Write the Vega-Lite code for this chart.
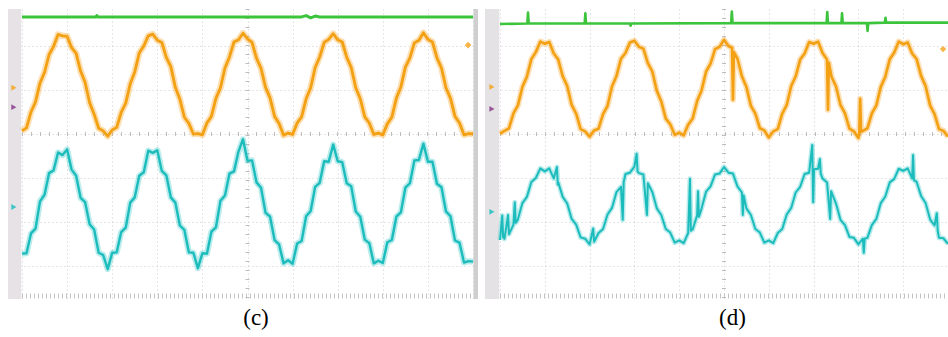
{
  "$schema": "https://vega.github.io/schema/vega-lite/v6.json",
  "background": "white",
  "padding": {"left": 8, "top": 7, "right": 0, "bottom": 0},
  "spacing": 7,
  "config": {
    "view": {"stroke": null},
    "axis": {"domain": false, "ticks": false, "labels": false, "grid": true, "gridColor": "#cdcdcd", "gridDash": [1, 3], "gridWidth": 1},
    "line": {"strokeJoin": "round", "strokeCap": "butt"},
    "title": {"font": "Liberation Serif", "fontSize": 23, "fontWeight": "normal", "color": "#000000", "orient": "bottom", "anchor": "middle"}
  },
  "datasets": {
    "gc": [{"t":0,"v":2.66},{"t":16.4,"v":2.66},{"t":16.6,"v":2.69},{"t":16.8,"v":2.66},{"t":62,"v":2.66},{"t":63,"v":2.69},{"t":64,"v":2.64},{"t":65,"v":2.68},{"t":66,"v":2.66},{"t":100,"v":2.66}],
    "oc": [{"t":0,"v":0.07},{"t":1,"v":0.14},{"t":2,"v":0.5},{"t":3,"v":0.73},{"t":4,"v":1.16},{"t":5,"v":1.4},{"t":6,"v":1.8},{"t":7,"v":1.99},{"t":8,"v":2.26},{"t":9,"v":2.23},{"t":10,"v":2.22},{"t":11,"v":1.96},{"t":12,"v":1.83},{"t":13,"v":1.43},{"t":14,"v":1.17},{"t":15,"v":0.71},{"t":16,"v":0.45},{"t":17,"v":0.13},{"t":18,"v":0.07},{"t":19,"v":-0.05},{"t":20,"v":0.09},{"t":21,"v":0.15},{"t":22,"v":0.49},{"t":23,"v":0.7},{"t":24,"v":1.14},{"t":25,"v":1.41},{"t":26,"v":1.84},{"t":27,"v":2.0},{"t":28,"v":2.23},{"t":29,"v":2.27},{"t":30,"v":2.13},{"t":31,"v":2.08},{"t":32,"v":1.74},{"t":33,"v":1.53},{"t":34,"v":1.06},{"t":35,"v":0.79},{"t":36,"v":0.38},{"t":37,"v":0.24},{"t":38,"v":0.0},{"t":39,"v":0.01},{"t":40,"v":-0.02},{"t":41,"v":0.25},{"t":42,"v":0.4},{"t":43,"v":0.81},{"t":44,"v":1.05},{"t":45,"v":1.5},{"t":46,"v":1.75},{"t":47,"v":2.09},{"t":48,"v":2.14},{"t":49,"v":2.29},{"t":50,"v":2.16},{"t":51,"v":2.08},{"t":52,"v":1.72},{"t":53,"v":1.49},{"t":54,"v":1.06},{"t":55,"v":0.82},{"t":56,"v":0.4},{"t":57,"v":0.24},{"t":58,"v":-0.03},{"t":59,"v":0.02},{"t":60,"v":-0.01},{"t":61,"v":0.25},{"t":62,"v":0.39},{"t":63,"v":0.8},{"t":64,"v":1.05},{"t":65,"v":1.51},{"t":66,"v":1.75},{"t":67,"v":2.08},{"t":68,"v":2.15},{"t":69,"v":2.28},{"t":70,"v":2.14},{"t":71,"v":2.09},{"t":72,"v":1.74},{"t":73,"v":1.51},{"t":74,"v":1.05},{"t":75,"v":0.8},{"t":76,"v":0.39},{"t":77,"v":0.25},{"t":78,"v":-0.01},{"t":79,"v":0.02},{"t":80,"v":-0.02},{"t":81,"v":0.23},{"t":82,"v":0.38},{"t":83,"v":0.81},{"t":84,"v":1.07},{"t":85,"v":1.52},{"t":86,"v":1.73},{"t":87,"v":2.07},{"t":88,"v":2.13},{"t":89,"v":2.3},{"t":90,"v":2.15},{"t":91,"v":2.09},{"t":92,"v":1.73},{"t":93,"v":1.5},{"t":94,"v":1.05},{"t":95,"v":0.81},{"t":96,"v":0.4},{"t":97,"v":0.25},{"t":98,"v":-0.02},{"t":99,"v":0.01},{"t":100,"v":0.0}],
    "cc": [{"t":0,"v":-2.72},{"t":1,"v":-2.71},{"t":2,"v":-2.26},{"t":3,"v":-2.15},{"t":4,"v":-1.53},{"t":5,"v":-1.38},{"t":6,"v":-0.89},{"t":7,"v":-0.83},{"t":8,"v":-0.42},{"t":9,"v":-0.48},{"t":10,"v":-0.35},{"t":11,"v":-0.81},{"t":12,"v":-0.95},{"t":13,"v":-1.45},{"t":14,"v":-1.55},{"t":15,"v":-2.05},{"t":16,"v":-2.17},{"t":17,"v":-2.7},{"t":18,"v":-2.75},{"t":19,"v":-3.07},{"t":20,"v":-2.7},{"t":21,"v":-2.69},{"t":22,"v":-2.23},{"t":23,"v":-2.13},{"t":24,"v":-1.56},{"t":25,"v":-1.44},{"t":26,"v":-0.95},{"t":27,"v":-0.87},{"t":28,"v":-0.38},{"t":29,"v":-0.43},{"t":30,"v":-0.37},{"t":31,"v":-0.84},{"t":32,"v":-0.94},{"t":33,"v":-1.44},{"t":34,"v":-1.56},{"t":35,"v":-2.08},{"t":36,"v":-2.18},{"t":37,"v":-2.69},{"t":38,"v":-2.7},{"t":39,"v":-3.05},{"t":40,"v":-2.71},{"t":41,"v":-2.72},{"t":42,"v":-2.22},{"t":43,"v":-2.12},{"t":44,"v":-1.52},{"t":45,"v":-1.4},{"t":46,"v":-0.9},{"t":47,"v":-0.85},{"t":48,"v":-0.4},{"t":49,"v":-0.12},{"t":50,"v":-0.61},{"t":51,"v":-0.6},{"t":52,"v":-1.1},{"t":53,"v":-1.22},{"t":54,"v":-1.79},{"t":55,"v":-1.88},{"t":56,"v":-2.41},{"t":57,"v":-2.51},{"t":58,"v":-2.94},{"t":59,"v":-2.87},{"t":60,"v":-2.95},{"t":61,"v":-2.49},{"t":62,"v":-2.43},{"t":63,"v":-1.87},{"t":64,"v":-1.75},{"t":65,"v":-1.2},{"t":66,"v":-1.11},{"t":67,"v":-0.62},{"t":68,"v":-0.63},{"t":69,"v":-0.24},{"t":70,"v":-0.62},{"t":71,"v":-0.64},{"t":72,"v":-1.12},{"t":73,"v":-1.19},{"t":74,"v":-1.76},{"t":75,"v":-1.88},{"t":76,"v":-2.4},{"t":77,"v":-2.48},{"t":78,"v":-2.94},{"t":79,"v":-2.88},{"t":80,"v":-2.93},{"t":81,"v":-2.46},{"t":82,"v":-2.41},{"t":83,"v":-1.88},{"t":84,"v":-1.78},{"t":85,"v":-1.22},{"t":86,"v":-1.12},{"t":87,"v":-0.6},{"t":88,"v":-0.59},{"t":89,"v":-0.22},{"t":90,"v":-0.63},{"t":91,"v":-0.63},{"t":92,"v":-1.13},{"t":93,"v":-1.21},{"t":94,"v":-1.76},{"t":95,"v":-1.87},{"t":96,"v":-2.42},{"t":97,"v":-2.47},{"t":98,"v":-2.92},{"t":99,"v":-2.89},{"t":100,"v":-2.9}],
    "gd": [{"t":0,"v":2.5},{"t":6.1,"v":2.51},{"t":6.25,"v":2.76},{"t":6.4,"v":2.51},{"t":18.9,"v":2.51},{"t":19.05,"v":2.74},{"t":19.2,"v":2.51},{"t":29,"v":2.51},{"t":29.15,"v":2.46},{"t":29.3,"v":2.51},{"t":51.6,"v":2.52},{"t":51.75,"v":2.78},{"t":51.9,"v":2.52},{"t":72.9,"v":2.52},{"t":73.05,"v":2.77},{"t":73.2,"v":2.52},{"t":76.2,"v":2.52},{"t":76.35,"v":2.74},{"t":76.5,"v":2.52},{"t":81.9,"v":2.52},{"t":82.05,"v":2.34},{"t":82.2,"v":2.52},{"t":85.9,"v":2.53},{"t":86.05,"v":2.64},{"t":86.2,"v":2.53},{"t":100,"v":2.53}],
    "od": [{"t":0,"v":0.01},{"t":1,"v":0.07},{"t":2,"v":0.13},{"t":3,"v":0.47},{"t":4,"v":0.65},{"t":5,"v":1.07},{"t":6,"v":1.3},{"t":7,"v":1.7},{"t":8,"v":1.86},{"t":9,"v":2.1},{"t":10,"v":2.05},{"t":11,"v":2.09},{"t":12,"v":1.83},{"t":13,"v":1.69},{"t":14,"v":1.31},{"t":15,"v":1.09},{"t":16,"v":0.66},{"t":17,"v":0.46},{"t":18,"v":0.11},{"t":19,"v":0.06},{"t":20,"v":-0.06},{"t":21,"v":0.08},{"t":22,"v":0.12},{"t":23,"v":0.45},{"t":24,"v":0.64},{"t":25,"v":1.08},{"t":26,"v":1.32},{"t":27,"v":1.71},{"t":28,"v":1.84},{"t":29,"v":2.08},{"t":30,"v":2.12},{"t":31,"v":1.98},{"t":32,"v":1.94},{"t":33,"v":1.61},{"t":34,"v":1.42},{"t":35,"v":0.98},{"t":36,"v":0.74},{"t":37,"v":0.35},{"t":38,"v":0.22},{"t":39,"v":-0.02},{"t":40,"v":0.03},{"t":41,"v":-0.03},{"t":42,"v":0.21},{"t":43,"v":0.35},{"t":44,"v":0.75},{"t":45,"v":0.99},{"t":46,"v":1.42},{"t":47,"v":1.6},{"t":48,"v":1.93},{"t":49,"v":1.98},{"t":50,"v":2.14},{"t":51,"v":2.0},{"t":51.8,"v":1.96},{"t":52,"v":0.78},{"t":52.2,"v":1.86},{"t":53,"v":1.71},{"t":54,"v":1.31},{"t":55,"v":1.07},{"t":56,"v":0.64},{"t":57,"v":0.46},{"t":58,"v":0.13},{"t":59,"v":0.08},{"t":60,"v":-0.08},{"t":61,"v":0.06},{"t":62,"v":0.11},{"t":63,"v":0.46},{"t":64,"v":0.66},{"t":65,"v":1.09},{"t":66,"v":1.31},{"t":67,"v":1.69},{"t":68,"v":1.83},{"t":69,"v":2.09},{"t":70,"v":2.05},{"t":71,"v":2.1},{"t":72,"v":1.84},{"t":73,"v":1.69},{"t":73.2,"v":0.55},{"t":73.4,"v":1.62},{"t":74,"v":1.3},{"t":75,"v":1.08},{"t":76,"v":0.66},{"t":77,"v":0.47},{"t":78,"v":0.12},{"t":79,"v":0.06},{"t":80,"v":-0.09},{"t":80.2,"v":0.02},{"t":80.4,"v":0.8},{"t":80.6,"v":0.05},{"t":81,"v":0.07},{"t":82,"v":0.13},{"t":83,"v":0.47},{"t":84,"v":0.65},{"t":85,"v":1.07},{"t":86,"v":1.3},{"t":87,"v":1.7},{"t":88,"v":1.85},{"t":89,"v":2.1},{"t":90,"v":2.04},{"t":91,"v":2.08},{"t":92,"v":1.83},{"t":93,"v":1.7},{"t":94,"v":1.32},{"t":95,"v":1.09},{"t":96,"v":0.65},{"t":97,"v":0.45},{"t":98,"v":0.11},{"t":99,"v":0.07},{"t":100,"v":-0.06}],
    "cd": [{"t":0,"v":-2.41},{"t":0.5,"v":-1.85},{"t":0.7,"v":-2.35},{"t":1,"v":-2.38},{"t":1.8,"v":-1.84},{"t":2,"v":-2.28},{"t":3,"v":-2.06},{"t":3.3,"v":-1.55},{"t":3.5,"v":-2.02},{"t":4,"v":-1.94},{"t":5,"v":-1.57},{"t":6,"v":-1.43},{"t":7,"v":-1.09},{"t":8,"v":-1.0},{"t":9,"v":-0.78},{"t":10,"v":-0.85},{"t":11,"v":-0.78},{"t":12,"v":-1.01},{"t":12.7,"v":-0.75},{"t":12.9,"v":-1.15},{"t":13,"v":-1.1},{"t":14,"v":-1.43},{"t":15,"v":-1.58},{"t":16,"v":-1.93},{"t":17,"v":-2.06},{"t":18,"v":-2.35},{"t":19,"v":-2.38},{"t":20,"v":-2.51},{"t":20.8,"v":-2.15},{"t":21,"v":-2.45},{"t":22,"v":-2.25},{"t":23,"v":-2.16},{"t":24,"v":-1.83},{"t":25,"v":-1.68},{"t":26,"v":-1.32},{"t":27,"v":-1.2},{"t":27.4,"v":-1.95},{"t":27.6,"v":-1.1},{"t":28,"v":-0.91},{"t":29,"v":-0.88},{"t":30,"v":-0.74},{"t":30.5,"v":-0.45},{"t":30.7,"v":-0.85},{"t":31,"v":-0.89},{"t":32,"v":-0.92},{"t":32.8,"v":-1.84},{"t":33,"v":-1.12},{"t":34,"v":-1.32},{"t":35,"v":-1.69},{"t":36,"v":-1.84},{"t":37,"v":-2.16},{"t":38,"v":-2.24},{"t":39,"v":-2.47},{"t":40,"v":-2.42},{"t":41,"v":-2.48},{"t":42,"v":-2.25},{"t":42.4,"v":-1.02},{"t":42.6,"v":-2.2},{"t":43,"v":-2.17},{"t":44,"v":-1.85},{"t":44.2,"v":-1.3},{"t":44.4,"v":-1.88},{"t":45,"v":-1.69},{"t":46,"v":-1.31},{"t":47,"v":-1.19},{"t":48,"v":-0.92},{"t":49,"v":-0.9},{"t":50,"v":-0.75},{"t":51,"v":-0.88},{"t":52,"v":-0.9},{"t":53,"v":-1.19},{"t":54,"v":-1.33},{"t":54.2,"v":-1.84},{"t":54.4,"v":-1.4},{"t":55,"v":-1.69},{"t":56,"v":-1.84},{"t":57,"v":-2.16},{"t":58,"v":-2.24},{"t":59,"v":-2.47},{"t":60,"v":-2.42},{"t":61,"v":-2.48},{"t":62,"v":-2.25},{"t":63,"v":-2.16},{"t":64,"v":-1.83},{"t":65,"v":-1.68},{"t":66,"v":-1.33},{"t":67,"v":-1.2},{"t":68,"v":-0.91},{"t":69,"v":-0.88},{"t":69.7,"v":-0.25},{"t":69.9,"v":-1.55},{"t":70.1,"v":-0.8},{"t":71,"v":-0.79},{"t":71.4,"v":-0.57},{"t":71.6,"v":-0.9},{"t":72,"v":-1.01},{"t":73,"v":-1.1},{"t":73.7,"v":-1.93},{"t":73.9,"v":-1.3},{"t":75,"v":-1.58},{"t":76,"v":-1.95},{"t":77,"v":-2.07},{"t":78,"v":-2.34},{"t":79,"v":-2.36},{"t":80,"v":-2.51},{"t":81,"v":-2.38},{"t":81.2,"v":-2.7},{"t":81.4,"v":-2.38},{"t":82,"v":-2.36},{"t":83,"v":-2.07},{"t":84,"v":-1.93},{"t":85,"v":-1.57},{"t":86,"v":-1.42},{"t":87,"v":-1.1},{"t":88,"v":-1.02},{"t":89,"v":-0.79},{"t":90,"v":-0.84},{"t":91,"v":-0.78},{"t":92,"v":-1.01},{"t":92.2,"v":-0.48},{"t":92.4,"v":-1.05},{"t":93,"v":-1.09},{"t":94,"v":-1.41},{"t":95,"v":-1.57},{"t":96,"v":-1.94},{"t":97,"v":-2.08},{"t":97.5,"v":-1.8},{"t":97.7,"v":-2.2},{"t":98,"v":-2.36},{"t":99,"v":-2.37},{"t":100,"v":-2.5}],
    "mc": [{"ch":"1","t":-1.8,"v":1.05},{"ch":"M","t":-1.8,"v":0.61},{"ch":"2","t":-1.8,"v":-1.66}],
    "md": [{"ch":"1","t":-1.8,"v":1.07},{"ch":"M","t":-1.8,"v":0.57},{"ch":"2","t":-1.8,"v":-1.77}],
    "tc": [{"t":98.9,"v":2.02}],
    "td": [{"t":98.9,"v":1.93}]
  },
  "hconcat": [
    {
      "width": 470,
      "height": 290,
      "title": {"text": "(c)", "offset": 6, "dx": 13},
      "layer": [
        {"data": {"values": [{}]}, "mark": {"type": "rect", "color": "#e6e2e6"},
         "encoding": {
           "x": {"datum": -3.1, "type": "quantitative", "title": null, "scale": {"domain": [-3.1, 101.1], "nice": false, "zero": false}},
           "x2": {"datum": -0.15},
           "y": {"datum": 2.84, "type": "quantitative", "title": null, "scale": {"domain": [-3.75, 2.84], "nice": false, "zero": false}},
           "y2": {"datum": -3.75}}},
        {"data": {"values": [{}]}, "mark": {"type": "rect", "color": "#cfcfcf"},
         "encoding": {
           "x": {"datum": 100.1, "type": "quantitative", "title": null, "scale": {"domain": [-3.1, 101.1], "nice": false, "zero": false}},
           "x2": {"datum": 101.1},
           "y": {"datum": 2.84, "type": "quantitative", "title": null, "scale": {"domain": [-3.75, 2.84], "nice": false, "zero": false}},
           "y2": {"datum": -3.75}}},
        {"data": {"values": [{}]}, "mark": {"type": "rule", "color": "#bdbdbd", "strokeDash": [1, 8], "strokeWidth": 4},
         "encoding": {
           "x": {"datum": 0, "type": "quantitative", "title": null, "scale": {"domain": [-3.1, 101.1], "nice": false, "zero": false}},
           "x2": {"datum": 100},
           "y": {"datum": 0, "type": "quantitative", "title": null, "scale": {"domain": [-3.75, 2.84], "nice": false, "zero": false}}}},
        {"data": {"values": [{}]}, "mark": {"type": "rule", "color": "#c4c4c4", "strokeDash": [1, 3], "strokeWidth": 5},
         "encoding": {
           "x": {"datum": 0, "type": "quantitative", "title": null, "scale": {"domain": [-3.1, 101.1], "nice": false, "zero": false}},
           "x2": {"datum": 100},
           "y": {"datum": -3.68, "type": "quantitative", "title": null, "scale": {"domain": [-3.75, 2.84], "nice": false, "zero": false}}}},
        {"data": {"values": [{}]}, "mark": {"type": "rule", "color": "#bdbdbd", "strokeDash": [1, 8], "strokeWidth": 4},
         "encoding": {
           "x": {"datum": 50, "type": "quantitative", "title": null, "scale": {"domain": [-3.1, 101.1], "nice": false, "zero": false}},
           "y": {"datum": 2.84, "type": "quantitative", "title": null, "scale": {"domain": [-3.75, 2.84], "nice": false, "zero": false}},
           "y2": {"datum": -3.75}}},
        {"data": {"name": "gc"}, "mark": {"type": "line", "color": "#3cc43c", "strokeWidth": 3},
         "encoding": {
           "x": {"field": "t", "type": "quantitative", "title": null, "scale": {"domain": [-3.1, 101.1], "nice": false, "zero": false}, "axis": {"values": [0, 10, 20, 30, 40, 50, 60, 70, 80, 90, 100]}},
           "y": {"field": "v", "type": "quantitative", "title": null, "scale": {"domain": [-3.75, 2.84], "nice": false, "zero": false}, "axis": {"values": [2, 1, 0, -1, -2, -3]}}}},
        {"data": {"name": "oc"}, "mark": {"type": "line", "color": "#f7b040", "strokeWidth": 6.5, "opacity": 0.4},
         "encoding": {
           "x": {"field": "t", "type": "quantitative", "title": null, "scale": {"domain": [-3.1, 101.1], "nice": false, "zero": false}},
           "y": {"field": "v", "type": "quantitative", "title": null, "scale": {"domain": [-3.75, 2.84], "nice": false, "zero": false}}}},
        {"data": {"name": "oc"}, "mark": {"type": "line", "color": "#f3a012", "strokeWidth": 2.8},
         "encoding": {
           "x": {"field": "t", "type": "quantitative", "title": null, "scale": {"domain": [-3.1, 101.1], "nice": false, "zero": false}},
           "y": {"field": "v", "type": "quantitative", "title": null, "scale": {"domain": [-3.75, 2.84], "nice": false, "zero": false}}}},
        {"data": {"name": "cc"}, "mark": {"type": "line", "color": "#35c6c6", "strokeWidth": 6, "opacity": 0.35},
         "encoding": {
           "x": {"field": "t", "type": "quantitative", "title": null, "scale": {"domain": [-3.1, 101.1], "nice": false, "zero": false}},
           "y": {"field": "v", "type": "quantitative", "title": null, "scale": {"domain": [-3.75, 2.84], "nice": false, "zero": false}}}},
        {"data": {"name": "cc"}, "mark": {"type": "line", "color": "#1cbcbc", "strokeWidth": 2.4},
         "encoding": {
           "x": {"field": "t", "type": "quantitative", "title": null, "scale": {"domain": [-3.1, 101.1], "nice": false, "zero": false}},
           "y": {"field": "v", "type": "quantitative", "title": null, "scale": {"domain": [-3.75, 2.84], "nice": false, "zero": false}}}},
        {"data": {"name": "mc"}, "mark": {"type": "point", "shape": "triangle-right", "filled": true, "size": 35, "opacity": 0.85},
         "encoding": {
           "x": {"field": "t", "type": "quantitative", "title": null, "scale": {"domain": [-3.1, 101.1], "nice": false, "zero": false}},
           "y": {"field": "v", "type": "quantitative", "title": null, "scale": {"domain": [-3.75, 2.84], "nice": false, "zero": false}},
           "color": {"field": "ch", "type": "nominal", "legend": null, "scale": {"domain": ["1", "M", "2"], "range": ["#f5a31a", "#8a3c8a", "#1fbfbf"]}}}},
        {"data": {"name": "tc"}, "mark": {"type": "point", "shape": "diamond", "filled": true, "size": 45, "color": "#f5a31a", "opacity": 0.8},
         "encoding": {
           "x": {"field": "t", "type": "quantitative", "title": null, "scale": {"domain": [-3.1, 101.1], "nice": false, "zero": false}},
           "y": {"field": "v", "type": "quantitative", "title": null, "scale": {"domain": [-3.75, 2.84], "nice": false, "zero": false}}}}
      ]
    },
    {
      "width": 463,
      "height": 290,
      "title": {"text": "(d)", "offset": 6, "dx": 16},
      "layer": [
        {"data": {"values": [{}]}, "mark": {"type": "rect", "color": "#e4e2e4"},
         "encoding": {
           "x": {"datum": -3.35, "type": "quantitative", "title": null, "scale": {"domain": [-3.35, 100], "nice": false, "zero": false}},
           "x2": {"datum": -0.15},
           "y": {"datum": 2.84, "type": "quantitative", "title": null, "scale": {"domain": [-3.75, 2.84], "nice": false, "zero": false}},
           "y2": {"datum": -3.75}}},
        {"data": {"values": [{}]}, "mark": {"type": "rule", "color": "#bdbdbd", "strokeDash": [1, 8], "strokeWidth": 4},
         "encoding": {
           "x": {"datum": 0, "type": "quantitative", "title": null, "scale": {"domain": [-3.35, 100], "nice": false, "zero": false}},
           "x2": {"datum": 100},
           "y": {"datum": 0, "type": "quantitative", "title": null, "scale": {"domain": [-3.75, 2.84], "nice": false, "zero": false}}}},
        {"data": {"values": [{}]}, "mark": {"type": "rule", "color": "#c4c4c4", "strokeDash": [1, 3], "strokeWidth": 5},
         "encoding": {
           "x": {"datum": 0, "type": "quantitative", "title": null, "scale": {"domain": [-3.35, 100], "nice": false, "zero": false}},
           "x2": {"datum": 100},
           "y": {"datum": -3.68, "type": "quantitative", "title": null, "scale": {"domain": [-3.75, 2.84], "nice": false, "zero": false}}}},
        {"data": {"values": [{}]}, "mark": {"type": "rule", "color": "#bdbdbd", "strokeDash": [1, 8], "strokeWidth": 4},
         "encoding": {
           "x": {"datum": 50, "type": "quantitative", "title": null, "scale": {"domain": [-3.35, 100], "nice": false, "zero": false}},
           "y": {"datum": 2.84, "type": "quantitative", "title": null, "scale": {"domain": [-3.75, 2.84], "nice": false, "zero": false}},
           "y2": {"datum": -3.75}}},
        {"data": {"name": "gd"}, "mark": {"type": "line", "color": "#3cc43c", "strokeWidth": 2.6},
         "encoding": {
           "x": {"field": "t", "type": "quantitative", "title": null, "scale": {"domain": [-3.35, 100], "nice": false, "zero": false}, "axis": {"values": [0, 10, 20, 30, 40, 50, 60, 70, 80, 90, 100]}},
           "y": {"field": "v", "type": "quantitative", "title": null, "scale": {"domain": [-3.75, 2.84], "nice": false, "zero": false}, "axis": {"values": [2, 1, 0, -1, -2, -3]}}}},
        {"data": {"name": "od"}, "mark": {"type": "line", "color": "#f7b040", "strokeWidth": 6, "opacity": 0.4},
         "encoding": {
           "x": {"field": "t", "type": "quantitative", "title": null, "scale": {"domain": [-3.35, 100], "nice": false, "zero": false}},
           "y": {"field": "v", "type": "quantitative", "title": null, "scale": {"domain": [-3.75, 2.84], "nice": false, "zero": false}}}},
        {"data": {"name": "od"}, "mark": {"type": "line", "color": "#f3a012", "strokeWidth": 2.6},
         "encoding": {
           "x": {"field": "t", "type": "quantitative", "title": null, "scale": {"domain": [-3.35, 100], "nice": false, "zero": false}},
           "y": {"field": "v", "type": "quantitative", "title": null, "scale": {"domain": [-3.75, 2.84], "nice": false, "zero": false}}}},
        {"data": {"name": "cd"}, "mark": {"type": "line", "color": "#35c6c6", "strokeWidth": 5, "opacity": 0.35},
         "encoding": {
           "x": {"field": "t", "type": "quantitative", "title": null, "scale": {"domain": [-3.35, 100], "nice": false, "zero": false}},
           "y": {"field": "v", "type": "quantitative", "title": null, "scale": {"domain": [-3.75, 2.84], "nice": false, "zero": false}}}},
        {"data": {"name": "cd"}, "mark": {"type": "line", "color": "#1cbcbc", "strokeWidth": 2},
         "encoding": {
           "x": {"field": "t", "type": "quantitative", "title": null, "scale": {"domain": [-3.35, 100], "nice": false, "zero": false}},
           "y": {"field": "v", "type": "quantitative", "title": null, "scale": {"domain": [-3.75, 2.84], "nice": false, "zero": false}}}},
        {"data": {"name": "md"}, "mark": {"type": "point", "shape": "triangle-right", "filled": true, "size": 35, "opacity": 0.85},
         "encoding": {
           "x": {"field": "t", "type": "quantitative", "title": null, "scale": {"domain": [-3.35, 100], "nice": false, "zero": false}},
           "y": {"field": "v", "type": "quantitative", "title": null, "scale": {"domain": [-3.75, 2.84], "nice": false, "zero": false}},
           "color": {"field": "ch", "type": "nominal", "legend": null, "scale": {"domain": ["1", "M", "2"], "range": ["#f5a31a", "#8a3c8a", "#1fbfbf"]}}}},
        {"data": {"name": "td"}, "mark": {"type": "point", "shape": "diamond", "filled": true, "size": 40, "color": "#f5a31a", "opacity": 0.8},
         "encoding": {
           "x": {"field": "t", "type": "quantitative", "title": null, "scale": {"domain": [-3.35, 100], "nice": false, "zero": false}},
           "y": {"field": "v", "type": "quantitative", "title": null, "scale": {"domain": [-3.75, 2.84], "nice": false, "zero": false}}}}
      ]
    }
  ]
}
